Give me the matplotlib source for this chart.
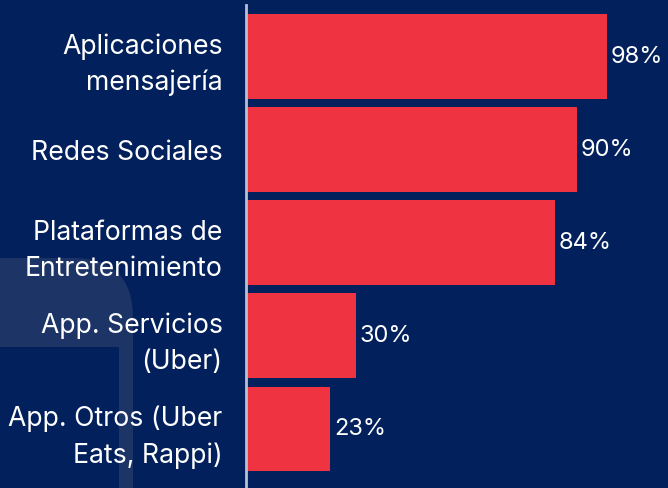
import matplotlib
matplotlib.use("Agg")
import matplotlib.pyplot as plt
from matplotlib.patches import FancyBboxPatch, Rectangle

categories = ["Aplicaciones\nmensajería", "Redes Sociales", "Plataformas de\nEntretenimiento",
              "App. Servicios\n(Uber)", "App. Otros (Uber\nEats, Rappi)"]
values = [98, 90, 84, 30, 23]
value_labels = ["98%", "90%", "84%", "30%", "23%"]

BG = "#02205b"
BAR = "#ef3340"
SHAPE = "#1c3466"
FONT = "Inter"

W, H = 668, 488
fig = plt.figure(figsize=(W / 100, H / 100), dpi=100)
fig.patch.set_facecolor(BG)

# decorative background shape (figure pixel coordinates)
bg_ax = fig.add_axes([0, 0, 1, 1])
bg_ax.set_xlim(0, W)
bg_ax.set_ylim(H, 0)
bg_ax.axis("off")
bg_ax.add_patch(FancyBboxPatch((-100, 258), 233, 400,
                               boxstyle="round,pad=0,rounding_size=60",
                               facecolor=SHAPE, edgecolor="none"))
bg_ax.add_patch(Rectangle((-10, 347), 129, 200, facecolor=BG, edgecolor="none"))

left = 245.5 / W
ax = fig.add_axes([left, 0, 1 - left, (H - 5) / H])
ax.set_facecolor("none")
y = list(range(len(categories)))
ax.barh(y, values, height=0.91, color=BAR)
ax.set_ylim(4 + 59 / 93.1, -51.5 / 93.1)
ax.set_xlim(0, (W - 245.5) / 3.685)

for yi, v, lab in zip(y, values, value_labels):
    ax.text(v + 1.0, yi, lab, va="center", ha="left", color="white",
            fontsize=17, family=FONT)

ax.set_yticks(y)
ax.set_yticklabels(categories, fontsize=19.2, family=FONT, color="white",
                   linespacing=1.5)
ax.tick_params(axis="y", length=0, pad=16.5)
ax.set_xticks([])
for s in ["top", "right", "bottom"]:
    ax.spines[s].set_visible(False)
ax.spines["left"].set_color("#b8c0d4")
ax.spines["left"].set_linewidth(2)

fig.savefig("out.png", dpi=100, facecolor=BG)
